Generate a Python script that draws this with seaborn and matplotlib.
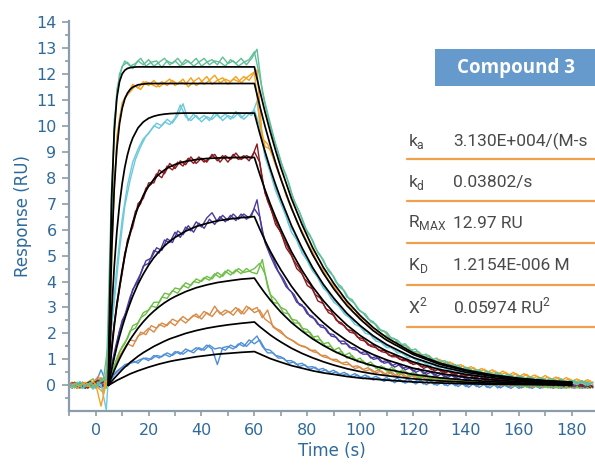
import numpy as np
import pandas as pd
import matplotlib
matplotlib.use("Agg")
import matplotlib.pyplot as plt
from matplotlib.ticker import MultipleLocator
from matplotlib.patches import Rectangle
from matplotlib.lines import Line2D
import seaborn as sns

# ---- data (two replicates per concentration) ----
T_EVEN = np.arange(-10, 189, 2)   # replicate A sample times (s)
T_ODD = np.arange(-9, 188, 2)     # replicate B sample times (s)

TEAL_A = [0.05, -0.08, 0.12, -0.04, 0.10, -0.06, 0.15, 0.22,
          7.6, 11.4, 12.3, 12.45, 12.2, 12.5, 12.35, 12.55, 12.3, 12.45, 12.6, 12.35, 12.5, 12.3,
          12.55, 12.4, 12.6, 12.3, 12.45, 12.55, 12.35, 12.65, 12.4, 12.5, 12.3, 12.45, 12.55, 12.85,
          11.9, 10.9, 10.1, 9.3, 8.6, 8.1, 7.4, 6.9, 6.45, 5.9, 5.6, 5.1, 4.85, 4.4, 4.2, 3.8,
          3.65, 3.3, 3.15, 2.85, 2.75, 2.45, 2.35, 2.1, 2.05, 1.8, 1.75, 1.55, 1.5, 1.3, 1.3, 1.1,
          1.15, 0.95, 0.9, 0.95, 0.75, 0.8, 0.6, 0.7, 0.55, 0.6, 0.45, 0.55, 0.4, 0.5, 0.35, 0.42,
          0.28, 0.38, 0.25, 0.33, 0.2, 0.3, 0.15, 0.27, 0.12, 0.25, 0.1, 0.2, 0.05, 0.18, 0.0, 0.12]
TEAL_B = [-0.05, 0.1, -0.12, 0.06, -0.1, 0.08, 0.3,
          1.8, 10.2, 12.0, 12.5, 12.3, 12.4, 12.6, 12.3, 12.45, 12.5, 12.25, 12.5, 12.4, 12.6,
          12.35, 12.5, 12.3, 12.45, 12.6, 12.35, 12.5, 12.45, 12.3, 12.55, 12.4, 12.6, 12.35, 12.6,
          12.95, 11.3, 10.4, 9.6, 9.0, 8.3, 7.8, 7.1, 6.7, 6.1, 5.8, 5.3, 5.0, 4.6, 4.35, 3.95,
          3.8, 3.4, 3.3, 2.95, 2.8, 2.55, 2.45, 2.15, 2.1, 1.85, 1.8, 1.55, 1.6, 1.35, 1.4, 1.15,
          1.2, 0.98, 1.05, 0.8, 0.9, 0.7, 0.78, 0.6, 0.68, 0.5, 0.6, 0.42, 0.52, 0.35, 0.45, 0.3,
          0.4, 0.25, 0.35, 0.2, 0.3, 0.15, 0.28, 0.12, 0.25, 0.1, 0.2, 0.05, 0.18, 0.08, 0.15, 0.02]

ORANGE_A = [-0.1, 0.08, -0.05, 0.12, -0.08, 0.05, -0.8, 0.1,
            5.3, 9.6, 10.9, 11.2, 11.6, 11.45, 11.7, 11.55, 11.75, 11.5, 11.65, 11.8, 11.55, 11.7,
            11.6, 11.85, 11.55, 11.7, 11.9, 11.6, 11.75, 11.85, 11.6, 11.8, 11.7, 11.9, 11.75, 12.05,
            10.2, 9.2, 9.1, 8.5, 8.0, 7.3, 6.9, 6.3, 5.95, 5.5, 5.15, 4.7, 4.45, 4.05, 3.85, 3.5,
            3.35, 3.0, 2.9, 2.6, 2.5, 2.25, 2.15, 1.95, 1.9, 1.7, 1.65, 1.45, 1.45, 1.25, 1.3, 1.1,
            1.15, 0.95, 1.0, 0.85, 0.9, 0.7, 0.8, 0.65, 0.72, 0.55, 0.65, 0.5, 0.6, 0.42, 0.55, 0.38,
            0.5, 0.32, 0.45, 0.3, 0.4, 0.25, 0.38, 0.2, 0.32, 0.18, 0.3, 0.15, 0.25, 0.1, 0.22, 0.08]
ORANGE_B = [0.06, -0.12, 0.1, -0.05, 0.15, -0.1, -0.3,
            1.2, 7.9, 10.3, 11.1, 11.3, 11.55, 11.4, 11.7, 11.6, 11.5, 11.7, 11.55, 11.75, 11.6,
            11.8, 11.5, 11.7, 11.85, 11.6, 11.75, 11.95, 11.65, 11.8, 11.7, 11.9, 11.65, 11.85, 12.0,
            12.15, 9.5, 9.3, 8.8, 8.2, 7.7, 7.05, 6.6, 6.1, 5.7, 5.3, 4.9, 4.5, 4.2, 3.9, 3.65,
            3.3, 3.15, 2.85, 2.7, 2.45, 2.35, 2.1, 2.05, 1.8, 1.75, 1.55, 1.55, 1.35, 1.35, 1.2, 1.2,
            1.0, 1.05, 0.9, 0.95, 0.75, 0.85, 0.65, 0.75, 0.58, 0.68, 0.5, 0.62, 0.45, 0.55, 0.4, 0.5,
            0.35, 0.45, 0.3, 0.42, 0.25, 0.35, 0.22, 0.32, 0.18, 0.3, 0.15, 0.25, 0.12, 0.2, 0.1, 0.18]

CYAN_A = [0.08, -0.1, 0.15, -0.05, 0.1, -0.12, 0.05, -0.95,
          2.3, 4.6, 6.4, 7.7, 8.6, 9.1, 9.5, 9.7, 10.0, 9.9, 10.15, 10.05, 10.3, 10.8,
          10.35, 10.2, 10.4, 10.15, 10.35, 10.25, 10.45, 10.2, 10.4, 10.3, 10.5, 10.25, 10.45, 10.6,
          10.0, 8.8, 8.2, 7.5, 7.0, 6.5, 5.9, 5.6, 5.1, 4.8, 4.4, 4.15, 3.75, 3.55, 3.2, 3.05,
          2.75, 2.6, 2.35, 2.25, 2.0, 1.95, 1.7, 1.65, 1.45, 1.45, 1.25, 1.25, 1.05, 1.1, 0.9, 0.95,
          0.75, 0.82, 0.65, 0.72, 0.55, 0.65, 0.48, 0.55, 0.4, 0.5, 0.35, 0.45, 0.3, 0.4, 0.25, 0.35,
          0.2, 0.3, 0.18, 0.28, 0.12, 0.25, 0.1, 0.22, 0.08, 0.2, 0.05, 0.18, 0.02, 0.15, 0.0, 0.12]
CYAN_B = [-0.08, 0.12, -0.1, 0.05, -0.15, 0.1, -0.2,
          1.3, 3.2, 5.2, 6.9, 7.9, 8.7, 9.2, 9.6, 9.85, 10.1, 10.0, 10.25, 10.1, 10.4,
          10.85, 10.2, 10.45, 10.25, 10.4, 10.2, 10.5, 10.3, 10.45, 10.25, 10.55, 10.3, 10.5, 10.4,
          10.95, 9.4, 8.6, 7.9, 7.3, 6.85, 6.2, 5.9, 5.35, 5.05, 4.6, 4.35, 3.95, 3.7, 3.35, 3.2,
          2.9, 2.75, 2.5, 2.4, 2.15, 2.05, 1.8, 1.75, 1.55, 1.5, 1.35, 1.3, 1.15, 1.12, 0.98, 0.95,
          0.82, 0.85, 0.7, 0.72, 0.6, 0.65, 0.5, 0.58, 0.42, 0.5, 0.38, 0.45, 0.32, 0.4, 0.28, 0.35,
          0.22, 0.32, 0.18, 0.28, 0.15, 0.25, 0.1, 0.22, 0.08, 0.2, 0.05, 0.18, 0.05, 0.15, 0.02, 0.12]

RED_A = [-0.1, 0.12, -0.08, 0.05, 0.15, -0.1, 0.08, 0.25,
         1.5, 3.2, 4.3, 5.6, 6.1, 7.0, 7.2, 7.8, 7.8, 8.3, 8.15, 8.55, 8.35, 8.65,
         8.5, 8.8, 8.55, 8.75, 8.6, 8.9, 8.65, 8.85, 8.6, 8.9, 8.7, 8.85, 8.65, 9.0,
         8.6, 7.4, 6.9, 6.2, 5.9, 5.3, 5.0, 4.5, 4.3, 3.85, 3.7, 3.25, 3.15, 2.8, 2.7, 2.4,
         2.3, 2.05, 2.0, 1.75, 1.7, 1.5, 1.45, 1.3, 1.25, 1.1, 1.1, 0.95, 0.95, 0.8, 0.85, 0.65,
         0.75, 0.55, 0.62, 0.48, 0.55, 0.4, 0.5, 0.35, 0.45, 0.3, 0.38, 0.25, 0.35, 0.2, 0.3, 0.15,
         0.28, 0.12, 0.25, 0.1, 0.22, 0.05, 0.2, 0.05, 0.18, 0.0, 0.15, -0.02, 0.12, -0.05, 0.1, -0.08]
RED_B = [0.1, -0.12, 0.05, -0.1, 0.08, 0.2, -0.05,
         0.3, 2.4, 3.7, 5.1, 5.8, 6.7, 7.0, 7.6, 7.75, 8.15, 8.0, 8.45, 8.3, 8.6,
         8.45, 8.75, 8.55, 8.8, 8.6, 8.75, 8.9, 8.6, 8.85, 8.7, 8.95, 8.7, 8.85, 8.75,
         9.3, 7.9, 7.1, 6.6, 6.1, 5.65, 5.25, 4.8, 4.5, 4.1, 3.9, 3.5, 3.35, 2.95, 2.85, 2.5,
         2.4, 2.15, 2.1, 1.85, 1.8, 1.55, 1.55, 1.35, 1.35, 1.15, 1.15, 1.0, 1.0, 0.85, 0.88, 0.72,
         0.75, 0.6, 0.65, 0.5, 0.58, 0.42, 0.5, 0.35, 0.42, 0.3, 0.38, 0.22, 0.32, 0.18, 0.28, 0.12,
         0.25, 0.1, 0.22, 0.05, 0.2, 0.02, 0.18, 0.0, 0.15, -0.02, 0.12, -0.05, 0.1, -0.05, 0.08, -0.1]

PURPLE_A = [0.1, -0.05, 0.08, -0.12, 0.05, 0.1, -0.08, 0.12,
            0.8, 1.7, 2.5, 2.9, 3.7, 4.0, 4.6, 4.7, 5.2, 5.1, 5.6, 5.5, 5.9, 5.7,
            6.1, 5.95, 6.3, 6.1, 6.45, 6.65, 6.3, 6.55, 6.35, 6.6, 6.4, 6.6, 6.45, 6.8,
            6.5, 5.5, 5.0, 4.55, 4.2, 3.8, 3.6, 3.2, 3.1, 2.75, 2.65, 2.35, 2.3, 2.0, 1.95, 1.7,
            1.7, 1.45, 1.45, 1.25, 1.3, 1.05, 1.1, 0.9, 0.95, 0.75, 0.85, 0.65, 0.72, 0.55, 0.65, 0.45,
            0.55, 0.4, 0.48, 0.32, 0.42, 0.28, 0.38, 0.22, 0.32, 0.18, 0.3, 0.15, 0.25, 0.12, 0.22, 0.1,
            0.2, 0.05, 0.18, 0.05, 0.15, 0.02, 0.15, 0.0, 0.12, -0.02, 0.1, -0.05, 0.1, -0.02, 0.08, -0.05]
PURPLE_B = [0.05, -0.1, 0.12, -0.06, 0.1, -0.08, 0.15,
            0.15, 1.1, 2.1, 2.7, 3.4, 3.9, 4.3, 4.8, 4.9, 5.3, 5.2, 5.65, 5.5, 5.95,
            5.8, 6.15, 5.9, 6.25, 6.05, 6.4, 6.2, 6.5, 6.3, 6.55, 6.35, 6.6, 6.4, 6.55,
            7.15, 5.9, 5.3, 4.9, 4.4, 4.1, 3.7, 3.5, 3.1, 3.0, 2.65, 2.55, 2.25, 2.2, 1.9, 1.85,
            1.6, 1.6, 1.4, 1.35, 1.2, 1.2, 1.0, 1.05, 0.85, 0.9, 0.7, 0.8, 0.6, 0.68, 0.5, 0.6,
            0.42, 0.52, 0.35, 0.45, 0.3, 0.4, 0.25, 0.35, 0.2, 0.3, 0.15, 0.28, 0.12, 0.25, 0.1, 0.2,
            0.08, 0.18, 0.05, 0.15, 0.02, 0.15, 0.0, 0.12, -0.02, 0.1, -0.05, 0.1, -0.05, 0.08, -0.08, 0.05]

GREEN_A = [-0.05, 0.1, -0.12, 0.08, -0.06, 0.12, 0.2, -0.1,
           0.45, 1.05, 1.5, 1.8, 2.3, 2.4, 2.8, 2.9, 3.2, 3.2, 3.55, 3.5, 3.75, 3.7,
           3.95, 3.85, 4.1, 4.0, 4.2, 4.1, 4.35, 4.2, 4.45, 4.3, 4.5, 4.35, 4.4, 4.5,
           4.7, 4.3, 3.5, 3.3, 3.0, 2.9, 2.55, 2.5, 2.2, 2.15, 1.85, 1.9, 1.6, 1.65, 1.35, 1.45,
           1.15, 1.25, 0.95, 1.05, 0.8, 0.9, 0.65, 0.75, 0.55, 0.7, 0.45, 0.6, 0.4, 0.5, 0.3, 0.45,
           0.25, 0.38, 0.2, 0.35, 0.15, 0.3, 0.1, 0.25, 0.08, 0.22, 0.05, 0.2, 0.02, 0.18, 0.0, 0.15,
           -0.02, 0.12, -0.05, 0.1, -0.05, 0.1, -0.08, 0.08, -0.1, 0.05, -0.12, 0.05, -0.1, 0.02, -0.12, 0.0]
GREEN_B = [-0.1, 0.08, -0.05, 0.12, 0.25, -0.1, 0.3,
           0.2, 0.7, 1.3, 1.6, 2.1, 2.2, 2.6, 2.75, 3.05, 3.0, 3.4, 3.35, 3.65, 3.55,
           3.85, 3.75, 4.0, 3.95, 4.15, 4.05, 4.3, 4.15, 4.4, 4.25, 4.45, 4.3, 4.5, 4.35,
           4.3, 4.85, 3.8, 3.2, 3.15, 2.8, 2.75, 2.4, 2.4, 2.05, 2.05, 1.75, 1.75, 1.5, 1.5, 1.25,
           1.3, 1.05, 1.15, 0.9, 0.95, 0.75, 0.8, 0.6, 0.7, 0.5, 0.62, 0.42, 0.55, 0.35, 0.48, 0.28,
           0.4, 0.22, 0.35, 0.18, 0.3, 0.12, 0.25, 0.08, 0.22, 0.05, 0.2, 0.02, 0.18, 0.0, 0.15, -0.02,
           0.12, -0.05, 0.1, -0.08, 0.08, -0.08, 0.05, -0.1, 0.05, -0.12, 0.02, -0.1, 0.0, -0.12, 0.02, -0.1]

BROWN_A = [0.1, -0.1, 0.05, -0.08, 0.12, -0.05, 0.3, -0.1,
           0.5, 0.9, 1.3, 1.6, 1.5, 1.9, 2.0, 2.2, 2.05, 2.35, 2.25, 2.45, 2.3, 2.55,
           2.4, 2.6, 2.75, 2.55, 2.8, 2.65, 2.9, 2.7, 2.85, 2.7, 2.95, 2.75, 3.0, 2.8,
           2.9, 2.55, 2.4, 2.2, 2.1, 1.85, 1.75, 1.6, 1.5, 1.45, 1.3, 1.25, 1.1, 1.05, 0.95, 0.9,
           0.8, 0.8, 0.65, 0.7, 0.55, 0.62, 0.48, 0.55, 0.4, 0.5, 0.35, 0.45, 0.3, 0.4, 0.25, 0.35,
           0.2, 0.32, 0.15, 0.28, 0.12, 0.25, 0.1, 0.22, 0.05, 0.2, 0.05, 0.18, 0.02, 0.15, 0.0, 0.15,
           -0.02, 0.12, -0.05, 0.1, -0.05, 0.1, -0.08, 0.08, -0.05, 0.08, -0.1, 0.05, -0.08, 0.05, -0.1, 0.02]
BROWN_B = [0.12, -0.08, 0.05, -0.12, 0.1, 0.35, -0.2,
           0.25, 0.7, 1.15, 1.4, 1.75, 1.7, 2.05, 1.95, 2.3, 2.2, 2.4, 2.3, 2.55, 2.45,
           2.65, 2.5, 2.7, 2.6, 2.85, 2.7, 3.05, 2.75, 2.9, 2.8, 3.0, 2.75, 3.05, 2.9,
           3.0, 2.6, 2.9, 2.25, 2.1, 1.95, 1.8, 1.7, 1.55, 1.5, 1.35, 1.35, 1.15, 1.15, 1.0, 1.0,
           0.85, 0.9, 0.72, 0.75, 0.6, 0.68, 0.5, 0.6, 0.42, 0.52, 0.35, 0.48, 0.3, 0.42, 0.25, 0.38,
           0.2, 0.32, 0.15, 0.3, 0.12, 0.25, 0.08, 0.22, 0.05, 0.2, 0.02, 0.18, 0.0, 0.15, -0.02, 0.12,
           -0.05, 0.12, -0.05, 0.1, -0.08, 0.08, -0.08, 0.05, -0.1, 0.05, -0.1, 0.02, -0.12, 0.02, -0.1, 0.0]

BLUE_A = [-0.08, 0.06, -0.1, 0.1, -0.05, 0.08, 0.6, 0.1,
          0.35, 0.55, 0.7, 0.75, 0.95, 0.85, 1.05, 0.95, 1.15, 1.05, 1.2, 1.1, 1.3, 1.2,
          1.4, 1.3, 1.45, 1.35, 1.55, 1.4, 0.8, 1.45, 1.5, 1.4, 1.6, 1.5, 1.75, 1.6,
          1.75, 1.4, 1.35, 1.15, 1.1, 0.95, 0.95, 0.8, 0.85, 0.7, 0.72, 0.6, 0.65, 0.5, 0.58, 0.42,
          0.5, 0.35, 0.45, 0.3, 0.4, 0.25, 0.35, 0.2, 0.3, 0.15, 0.28, 0.12, 0.25, 0.1, 0.22, 0.05,
          0.2, 0.02, 0.18, 0.0, 0.15, -0.02, 0.12, -0.05, 0.1, -0.05, 0.1, -0.08, 0.08, -0.1, 0.05, -0.08,
          0.05, -0.12, 0.02, -0.1, 0.02, -0.12, 0.0, -0.1, 0.02, -0.12, 0.0, -0.1, 0.02, -0.12, 0.0, -0.1]
BLUE_B = [-0.12, 0.05, -0.1, 0.08, -0.05, 0.1, 0.2,
          0.1, 0.4, 0.6, 0.8, 0.85, 0.9, 1.0, 1.05, 1.0, 1.15, 1.1, 1.25, 1.15, 1.3,
          1.2, 1.35, 1.25, 1.45, 1.35, 1.55, 1.4, 1.45, 1.35, 1.55, 1.45, 1.65, 1.5, 1.7,
          1.9, 1.5, 1.25, 1.25, 1.05, 1.05, 0.85, 0.9, 0.72, 0.8, 0.62, 0.7, 0.52, 0.6, 0.45, 0.52,
          0.38, 0.45, 0.3, 0.4, 0.25, 0.35, 0.2, 0.3, 0.15, 0.25, 0.1, 0.22, 0.08, 0.2, 0.05, 0.18,
          0.02, 0.15, 0.0, 0.12, -0.02, 0.12, -0.05, 0.1, -0.08, 0.08, -0.08, 0.05, -0.1, 0.05, -0.1, 0.02,
          -0.12, 0.02, -0.1, 0.0, -0.12, 0.0, -0.1, 0.02, -0.12, 0.0, -0.1, -0.02, -0.12, 0.0, -0.1, -0.02]

# ---- 1:1 fitted curves (black), read at these times ----
FIT_T = [4.8, 5, 6, 7, 8, 9, 10, 11, 12, 13, 14, 16, 18, 20, 22, 24, 26, 28, 30, 34, 38, 42, 46, 50,
         55, 60, 62, 64, 66, 68, 70, 74, 78, 82, 86, 90, 95, 100, 105, 110, 120, 130, 140, 150,
         160, 170, 180]
FIT_TEAL = [0, 1.67, 7.17, 9.80, 11.08, 11.70, 12.00, 12.14, 12.21, 12.24, 12.26,
            12.27, 12.27, 12.27, 12.27, 12.27, 12.27, 12.27, 12.27, 12.27, 12.27, 12.27, 12.27, 12.27, 12.27, 12.27,
            11.37, 10.54, 9.77, 9.06, 8.39, 7.20, 6.20, 5.31, 4.56, 3.93, 3.24, 2.69, 2.22, 1.84,
            1.25, 0.86, 0.59, 0.40, 0.27, 0.18, 0.12]
FIT_ORANGE = [0, 1.06, 5.09, 7.58, 9.13, 10.08, 10.67, 11.04, 11.26, 11.40, 11.49,
              11.58, 11.61, 11.63, 11.63, 11.63, 11.63, 11.63, 11.63, 11.63, 11.63, 11.63, 11.63, 11.63, 11.63, 11.63,
              10.78, 9.99, 9.26, 8.58, 7.95, 6.83, 5.87, 5.04, 4.33, 3.72, 3.07, 2.55, 2.10, 1.74,
              1.19, 0.81, 0.56, 0.38, 0.26, 0.17, 0.12]
FIT_CYAN = [0, 0.53, 2.81, 4.57, 5.93, 6.97, 7.77, 8.40, 8.88, 9.25, 9.53,
            9.92, 10.15, 10.29, 10.37, 10.42, 10.45, 10.47, 10.48, 10.49, 10.49, 10.49, 10.49, 10.49, 10.49, 10.49,
            9.72, 9.01, 8.35, 7.74, 7.18, 6.16, 5.30, 4.54, 3.90, 3.36, 2.77, 2.30, 1.90, 1.57,
            1.07, 0.73, 0.50, 0.35, 0.23, 0.16, 0.10]
FIT_RED = [0, 0.23, 1.32, 2.26, 3.09, 3.81, 4.44, 4.99, 5.47, 5.89, 6.26,
           6.86, 7.32, 7.67, 7.94, 8.14, 8.30, 8.42, 8.51, 8.63, 8.70, 8.74, 8.76, 8.77, 8.78, 8.78,
           8.14, 7.54, 6.99, 6.48, 6.01, 5.15, 4.43, 3.80, 3.27, 2.81, 2.32, 1.92, 1.59, 1.32,
           0.90, 0.61, 0.42, 0.29, 0.19, 0.13, 0.09]
FIT_PURPLE = [0, 0.11, 0.60, 1.06, 1.49, 1.88, 2.24, 2.57, 2.88, 3.16, 3.43,
              3.90, 4.29, 4.63, 4.92, 5.16, 5.37, 5.55, 5.70, 5.94, 6.12, 6.24, 6.34, 6.40, 6.46, 6.50,
              6.03, 5.58, 5.17, 4.80, 4.45, 3.82, 3.28, 2.81, 2.42, 2.08, 1.72, 1.42, 1.18, 0.98,
              0.66, 0.46, 0.31, 0.21, 0.14, 0.10, 0.07]
FIT_GREEN = [0, 0.06, 0.32, 0.57, 0.80, 1.02, 1.22, 1.41, 1.59, 1.76, 1.91,
             2.20, 2.45, 2.67, 2.86, 3.03, 3.18, 3.31, 3.42, 3.61, 3.76, 3.87, 3.96, 4.02, 4.09, 4.13,
             3.83, 3.55, 3.29, 3.05, 2.82, 2.42, 2.09, 1.79, 1.54, 1.32, 1.09, 0.90, 0.75, 0.62,
             0.42, 0.29, 0.20, 0.14, 0.09, 0.06, 0.04]
FIT_BROWN = [0, 0.01, 0.15, 0.27, 0.38, 0.49, 0.60, 0.70, 0.79, 0.88, 0.96,
             1.12, 1.26, 1.38, 1.50, 1.60, 1.70, 1.79, 1.86, 2.00, 2.11, 2.20, 2.27, 2.33, 2.39, 2.44,
             2.26, 2.10, 1.94, 1.80, 1.67, 1.43, 1.23, 1.06, 0.91, 0.78, 0.64, 0.53, 0.44, 0.37,
             0.25, 0.17, 0.12, 0.08, 0.05, 0.04, 0.02]
FIT_BLUE = [0, 0.01, 0.07, 0.13, 0.19, 0.24, 0.29, 0.34, 0.39, 0.44, 0.48,
            0.56, 0.63, 0.70, 0.76, 0.82, 0.87, 0.92, 0.96, 1.03, 1.10, 1.15, 1.20, 1.23, 1.27, 1.30,
            1.21, 1.12, 1.03, 0.96, 0.89, 0.76, 0.66, 0.56, 0.48, 0.42, 0.34, 0.28, 0.24, 0.20,
            0.13, 0.09, 0.06, 0.04, 0.03, 0.02, 0.01]

SERIES = ["blue", "brown", "green", "purple", "red", "cyan", "orange", "teal"]
COLORS = {"blue": "#4f8fd6", "brown": "#d98b48", "green": "#6cbf45", "purple": "#4a3b9c",
          "red": "#8b1a1f", "cyan": "#6bc9dc", "orange": "#f6a11f", "teal": "#5fbf98"}
REP_A = {"blue": BLUE_A, "brown": BROWN_A, "green": GREEN_A, "purple": PURPLE_A,
         "red": RED_A, "cyan": CYAN_A, "orange": ORANGE_A, "teal": TEAL_A}
REP_B = {"blue": BLUE_B, "brown": BROWN_B, "green": GREEN_B, "purple": PURPLE_B,
         "red": RED_B, "cyan": CYAN_B, "orange": ORANGE_B, "teal": TEAL_B}
FITS = {"blue": FIT_BLUE, "brown": FIT_BROWN, "green": FIT_GREEN, "purple": FIT_PURPLE,
        "red": FIT_RED, "cyan": FIT_CYAN, "orange": FIT_ORANGE, "teal": FIT_TEAL}

TABLE_LABELS = [r"k$_{\mathregular{a}}$", r"k$_{\mathregular{d}}$", r"R$_{\mathregular{MAX}}$",
                r"K$_{\mathregular{D}}$", r"X$^{\mathregular{2}}$"]
TABLE_VALUES = ["3.130E+004/(M-s", "0.03802/s", "12.97 RU", "1.2154E-006 M",
                r"0.05974 RU$^{\mathregular{2}}$"]

# ---- long tables for seaborn ----
frames = []
for s in SERIES:
    frames.append(pd.DataFrame({"time": T_EVEN, "resp": REP_A[s], "conc": s, "rep": "A"}))
    frames.append(pd.DataFrame({"time": T_ODD, "resp": REP_B[s], "conc": s, "rep": "B"}))
df = pd.concat(frames, ignore_index=True)
fit_df = pd.concat([pd.DataFrame({"time": FIT_T, "resp": FITS[s], "conc": s}) for s in SERIES],
                   ignore_index=True)

sns.set_theme(style="ticks")
plt.rcParams["font.family"] = ["DejaVu Sans"]
axis_col = "#8b9daa"
label_col = "#2e6a9c"

W, H = 595, 465
fig = plt.figure(figsize=(W / 100, H / 100), dpi=100)
ax = fig.add_axes([69 / W, 54 / H, (W - 69) / W, (411 - 20.7) / H])

sns.lineplot(data=df, x="time", y="resp", hue="conc", units="rep", estimator=None,
             palette=COLORS, hue_order=SERIES, linewidth=1.0, sort=False, legend=False, ax=ax)
sns.lineplot(data=fit_df, x="time", y="resp", units="conc", estimator=None, color="black",
             linewidth=1.25, sort=False, legend=False, ax=ax)

ax.set_xlim(-10.1, 188.8)
ax.set_ylim(-0.99, 14.05)
ax.xaxis.set_major_locator(MultipleLocator(20))
ax.xaxis.set_minor_locator(MultipleLocator(10))
ax.yaxis.set_major_locator(MultipleLocator(1))
ax.yaxis.set_minor_locator(MultipleLocator(0.5))
sns.despine(ax=ax)
for side in ["left", "bottom"]:
    ax.spines[side].set_color(axis_col)
    ax.spines[side].set_linewidth(1.6)
ax.tick_params(axis="both", which="both", color=axis_col, width=1.2, labelcolor=label_col,
               labelsize=11.5)
ax.tick_params(axis="y", which="major", length=5, pad=4)
ax.tick_params(axis="y", which="minor", length=3)
ax.tick_params(axis="x", which="both", length=3.5, pad=5)
ax.set_xlabel("Time (s)", color=label_col, fontsize=12, labelpad=3)
ax.set_ylabel("Response (RU)", color=label_col, fontsize=12, labelpad=3)

# ---- "Compound 3" badge ----
fig.add_artist(Rectangle((435 / W, 1 - 86 / H), (W - 435) / W, 37 / H,
                         transform=fig.transFigure, facecolor="#6699cc", edgecolor="none"))
fig.text(516 / W, 1 - 67.5 / H, "Compound 3", color="white", fontsize=13.5, fontweight="bold",
         ha="center", va="center", family=["Open Sans", "DejaVu Sans"])

# ---- kinetics table ----
row_y = [141.7, 182, 223, 265, 306]
line_y = [159, 201, 243, 285, 327]
tfam = ["Roboto", "Liberation Sans", "DejaVu Sans"]
for lab, val, ry, ly in zip(TABLE_LABELS, TABLE_VALUES, row_y, line_y):
    fig.text(408 / W, 1 - ry / H, lab, color="#4a4a4a", fontsize=12.5, ha="left", va="center",
             family=tfam)
    fig.text(453 / W, 1 - ry / H, val, color="#4a4a4a", fontsize=12.5, ha="left", va="center",
             family=tfam)
    fig.add_artist(Line2D([407 / W, 1.0], [1 - ly / H, 1 - ly / H], transform=fig.transFigure,
                          color="#f0a04b", linewidth=1.6))

fig.savefig("out.png", dpi=100)
